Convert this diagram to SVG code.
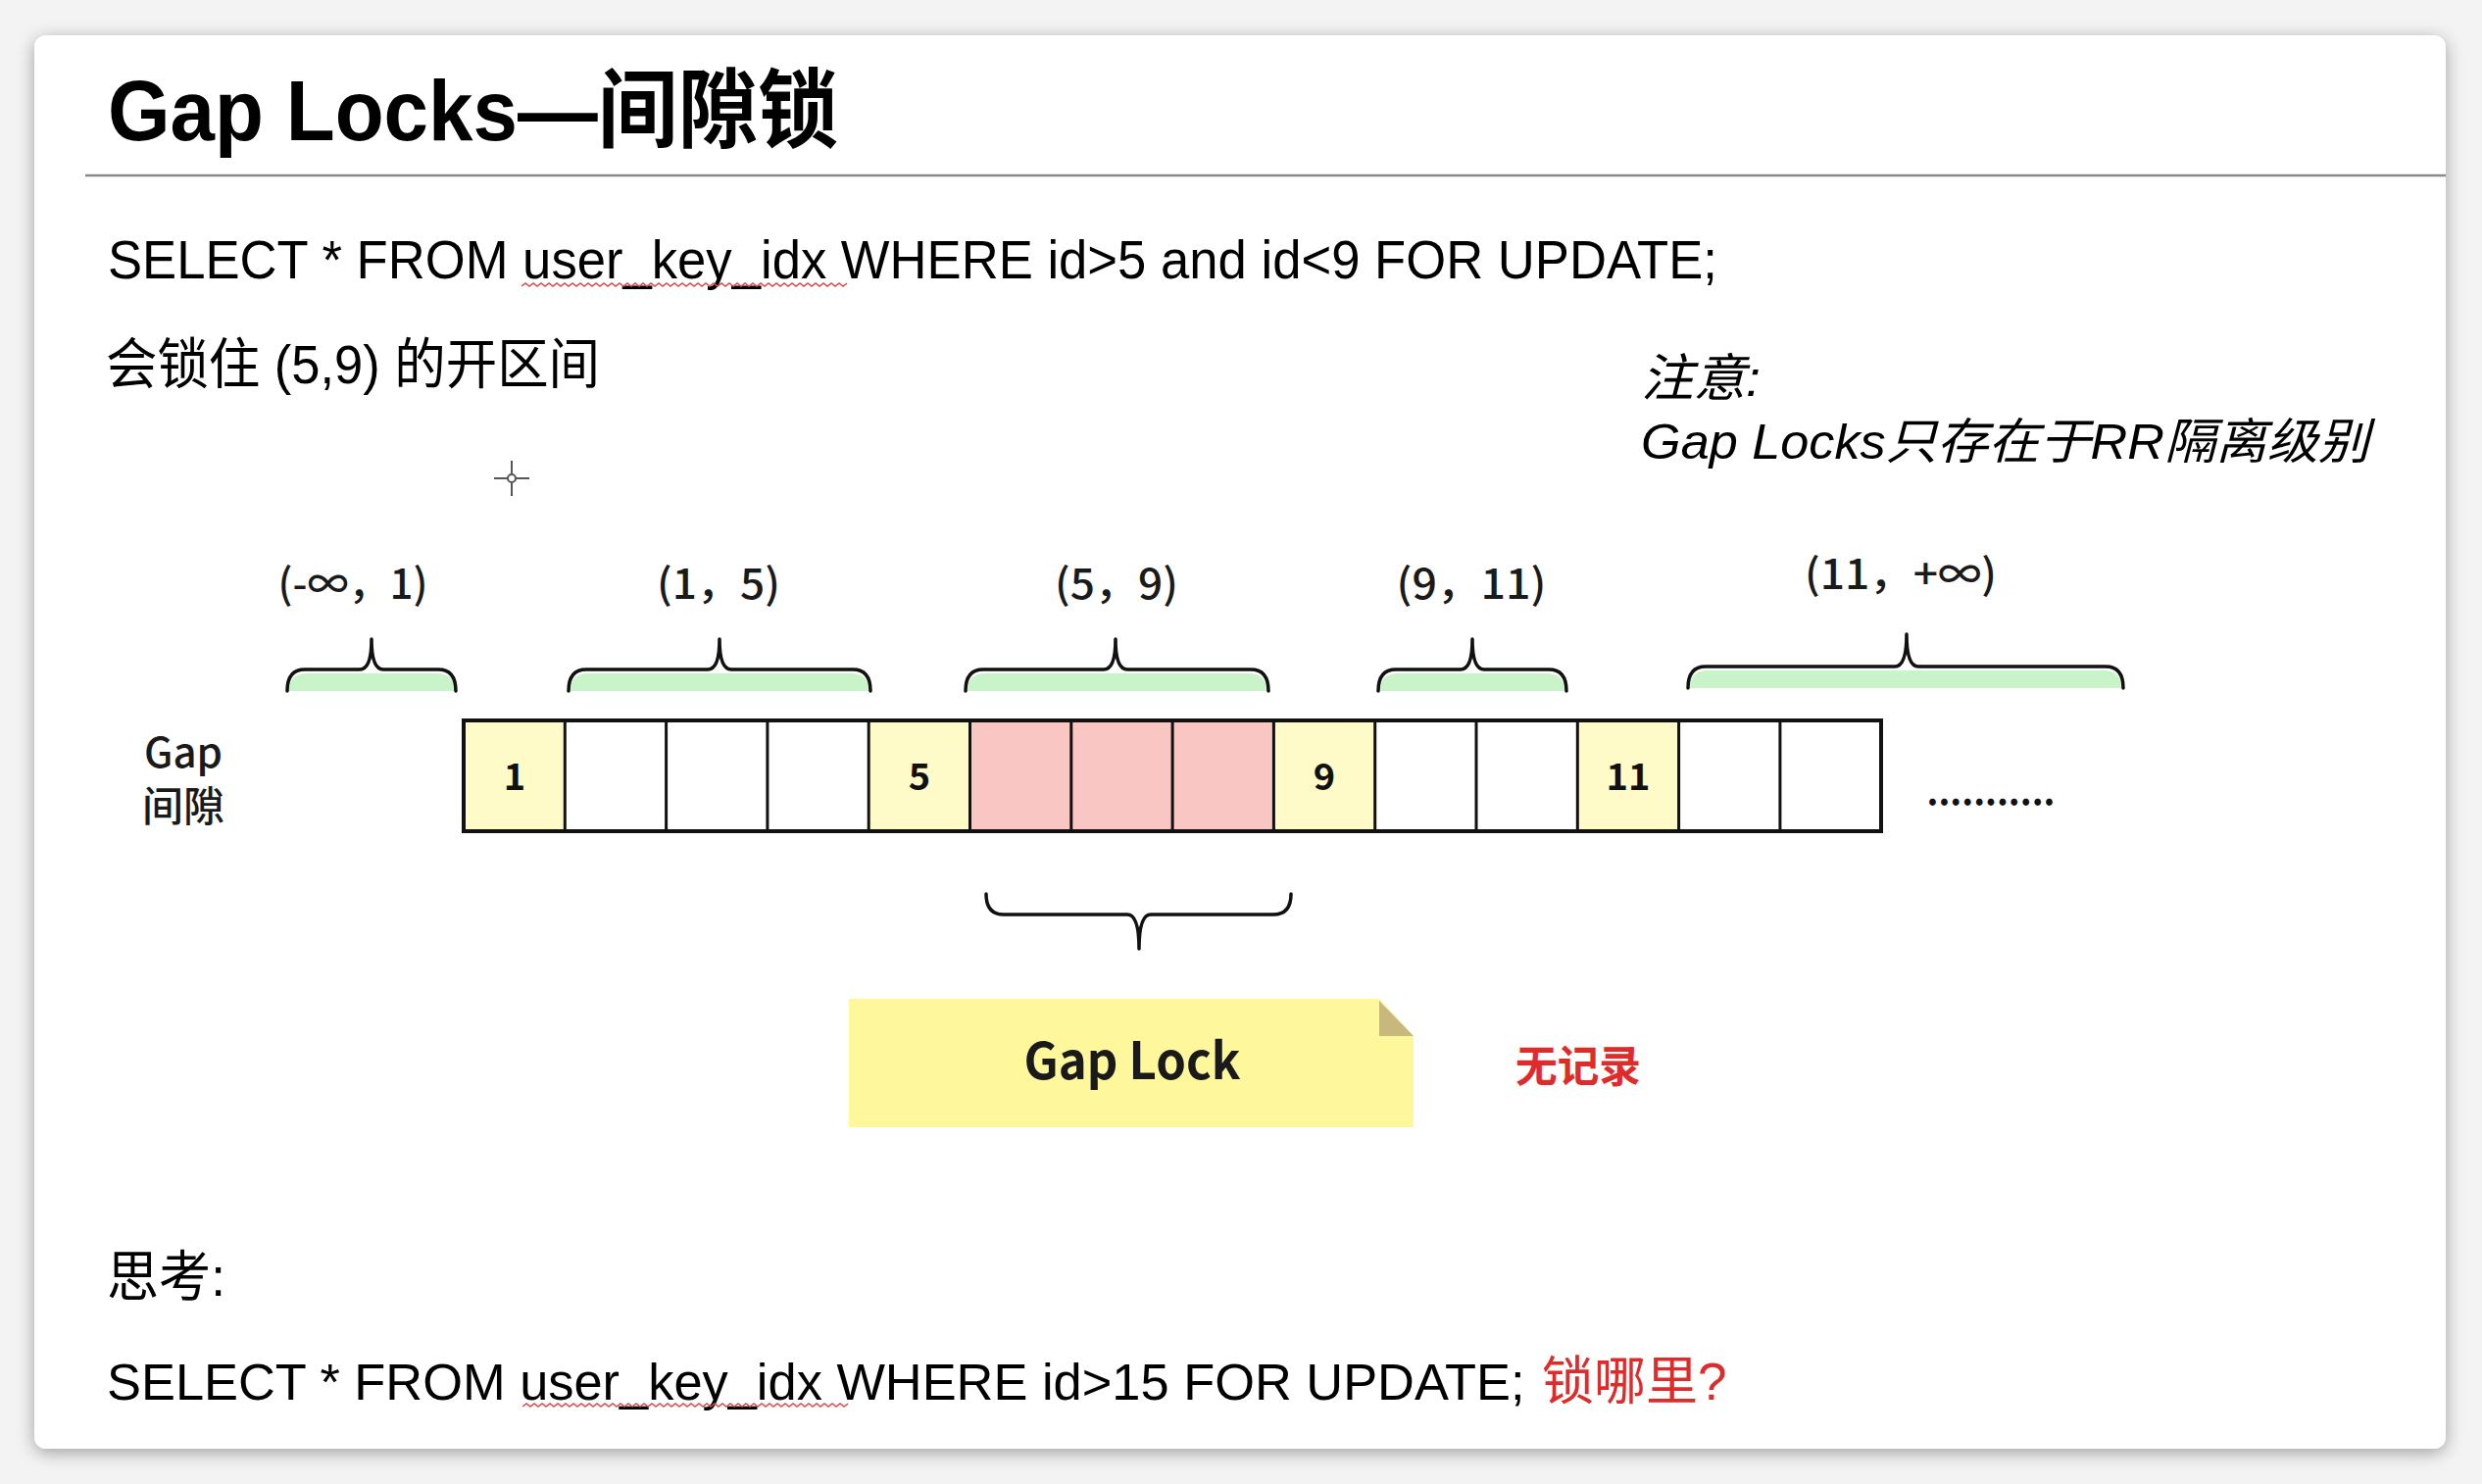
<svg xmlns="http://www.w3.org/2000/svg" width="2532" height="1514" viewBox="0 0 2532 1514">
<defs>
<filter id="shadow" x="-5%" y="-5%" width="110%" height="110%">
<feGaussianBlur in="SourceAlpha" stdDeviation="9"/>
<feOffset dx="0" dy="4"/>
<feComponentTransfer><feFuncA type="linear" slope="0.35"/></feComponentTransfer>
<feMerge><feMergeNode/><feMergeNode in="SourceGraphic"/></feMerge>
</filter>
<style>
.sans{font-family:"Liberation Sans","Noto Sans CJK SC",sans-serif;fill:#000;}
.lbl{font-family:"Noto Sans CJK SC","Noto Sans",sans-serif;fill:#1a1a1a;font-weight:500;}
.num{font-family:"Noto Sans CJK SC","Noto Sans",sans-serif;fill:#111;font-weight:700;font-size:38px;text-anchor:middle;}
.brace{fill:none;stroke:#111;stroke-width:3.5;stroke-linejoin:round;stroke-linecap:round;}
.bfill{fill:#c9f3c9;stroke:none;}
.cell{stroke:#111;stroke-width:3;}
.squig{fill:none;stroke:#e04848;stroke-width:1.5;}
.red{fill:#e02b2b;}
</style>
</defs>
<rect x="0" y="0" width="2532" height="1514" fill="#f3f3f3"/>
<rect id="card" x="35" y="36" width="2460" height="1442" rx="12" fill="#ffffff" filter="url(#shadow)"/>

<g id="title">
<text class="sans" x="110" y="143" font-size="88" font-weight="700" textLength="745" lengthAdjust="spacingAndGlyphs">Gap Locks—间隙锁</text>
<line x1="87" y1="179" x2="2495" y2="179" stroke="#8a8a8a" stroke-width="2.5"/>
</g>

<g id="sql1">
<text class="sans" x="110" y="284" font-size="56" textLength="1642" lengthAdjust="spacingAndGlyphs">SELECT * FROM user_key_idx WHERE id&gt;5 and id&lt;9 FOR UPDATE;</text>
<path class="squig" d="M532 292 l4 -3 l4 3 l4 -3 l4 3 l4 -3 l4 3 l4 -3 l4 3 l4 -3 l4 3 l4 -3 l4 3 l4 -3 l4 3 l4 -3 l4 3 l4 -3 l4 3 l4 -3 l4 3 l4 -3 l4 3 l4 -3 l4 3 l4 -3 l4 3 l4 -3 l4 3 l4 -3 l4 3 l4 -3 l4 3 l4 -3 l4 3 l4 -3 l4 3 l4 -3 l4 3 l4 -3 l4 3 l4 -3 l4 3 l4 -3 l4 3 l4 -3 l4 3 l4 -3 l4 3 l4 -3 l4 3 l4 -3 l4 3 l4 -3 l4 3 l4 -3 l4 3 l4 -3 l4 3 l4 -3 l4 3 l4 -3 l4 3 l4 -3 l4 3 l4 -3 l4 3 l4 -3 l4 3 l4 -3 l4 3 l4 -3 l4 3 l4 -3 l4 3 l4 -3 l4 3 l4 -3 l4 3 l4 -3 l4 3 l4 -3 l4 3 l4 -3"/>
</g>

<g id="desc">
<text class="sans" x="108" y="391" font-size="56" textLength="504" lengthAdjust="spacingAndGlyphs">会锁住 (5,9) 的开区间</text>
</g>

<g id="note-rr">
<text class="sans" x="1674" y="404" font-size="52" font-style="italic" textLength="122" lengthAdjust="spacingAndGlyphs">注意:</text>
<text class="sans" x="1674" y="468" font-size="50" font-style="italic" textLength="743" lengthAdjust="spacingAndGlyphs">Gap Locks只存在于RR隔离级别</text>
</g>

<g id="cursor" stroke="#555" stroke-width="2" fill="none">
<line x1="522" y1="470" x2="522" y2="484"/>
<line x1="522" y1="492" x2="522" y2="506"/>
<line x1="504" y1="488" x2="518" y2="488"/>
<line x1="526" y1="488" x2="540" y2="488"/>
<circle cx="522" cy="488" r="4"/>
</g>

<g id="gap-label">
<text class="lbl" x="187" y="783" font-size="42" font-weight="700" text-anchor="middle">Gap</text>
<text class="lbl" x="187" y="838" font-size="42" font-weight="700" text-anchor="middle">间隙</text>
</g>

<g id="interval-labels">
<text class="lbl" x="360" y="611" font-size="42" text-anchor="middle" textLength="153" lengthAdjust="spacingAndGlyphs">(-∞，1)</text>
<text class="lbl" x="733" y="611" font-size="42" text-anchor="middle" textLength="126" lengthAdjust="spacingAndGlyphs">(1，5)</text>
<text class="lbl" x="1139" y="611" font-size="42" text-anchor="middle" textLength="126" lengthAdjust="spacingAndGlyphs">(5，9)</text>
<text class="lbl" x="1501" y="611" font-size="42" text-anchor="middle" textLength="153" lengthAdjust="spacingAndGlyphs">(9，11)</text>
<text class="lbl" x="1939" y="601" font-size="42" text-anchor="middle" textLength="196" lengthAdjust="spacingAndGlyphs">(11，+∞)</text>
</g>

<g id="connectors">
<g id="brace-1">
<path class="bfill" d="M295 705 Q295 687 313 687 L446 687 Q464 687 464 705 Z"/>
<path class="brace" d="M293 705 Q293 683 311 683 L367 683 Q379 683 379 652 Q379 683 391 683 L447 683 Q465 683 465 705"/>
</g>
<g id="brace-2">
<path class="bfill" d="M582 705 Q582 687 600 687 L868 687 Q886 687 886 705 Z"/>
<path class="brace" d="M580 705 Q580 683 598 683 L722 683 Q734 683 734 652 Q734 683 746 683 L870 683 Q888 683 888 705"/>
</g>
<g id="brace-3">
<path class="bfill" d="M987 705 Q987 687 1005 687 L1274 687 Q1292 687 1292 705 Z"/>
<path class="brace" d="M985 705 Q985 683 1003 683 L1126 683 Q1138 683 1138 652 Q1138 683 1150 683 L1276 683 Q1294 683 1294 705"/>
</g>
<g id="brace-4">
<path class="bfill" d="M1408 705 Q1408 687 1426 687 L1578 687 Q1596 687 1596 705 Z"/>
<path class="brace" d="M1406 705 Q1406 683 1424 683 L1490 683 Q1502 683 1502 652 Q1502 683 1514 683 L1580 683 Q1598 683 1598 705"/>
</g>
<g id="brace-5">
<path class="bfill" d="M1724 702 Q1724 684 1742 684 L2146 684 Q2164 684 2164 702 Z"/>
<path class="brace" d="M1722 702 Q1722 680 1740 680 L1933 680 Q1945 680 1945 647 Q1945 680 1957 680 L2148 680 Q2166 680 2166 702"/>
</g>
<g id="brace-lock">
<path class="brace" d="M1006 912 Q1006 933 1024 933 L1150 933 Q1162 933 1162 968 Q1162 933 1174 933 L1299 933 Q1317 933 1317 912"/>
</g>
</g>

<g id="records">
<rect x="473" y="735" width="103.3" height="113" fill="#fffbc8"/>
<rect x="886.2" y="735" width="103.3" height="113" fill="#fffbc8"/>
<rect x="989.5" y="735" width="309.9" height="113" fill="#f9c6c4"/>
<rect x="1299.4" y="735" width="103.3" height="113" fill="#fffbc8"/>
<rect x="1609.3" y="735" width="103.3" height="113" fill="#fffbc8"/>
<g class="cell">
<line x1="576.3" y1="735" x2="576.3" y2="848"/>
<line x1="679.6" y1="735" x2="679.6" y2="848"/>
<line x1="782.9" y1="735" x2="782.9" y2="848"/>
<line x1="886.2" y1="735" x2="886.2" y2="848"/>
<line x1="989.5" y1="735" x2="989.5" y2="848"/>
<line x1="1092.8" y1="735" x2="1092.8" y2="848"/>
<line x1="1196.1" y1="735" x2="1196.1" y2="848"/>
<line x1="1299.4" y1="735" x2="1299.4" y2="848"/>
<line x1="1402.7" y1="735" x2="1402.7" y2="848"/>
<line x1="1506" y1="735" x2="1506" y2="848"/>
<line x1="1609.3" y1="735" x2="1609.3" y2="848"/>
<line x1="1712.6" y1="735" x2="1712.6" y2="848"/>
<line x1="1815.9" y1="735" x2="1815.9" y2="848"/>
</g>
<rect x="473" y="735" width="1446" height="113" fill="none" stroke="#111" stroke-width="4"/>
<text class="num" x="525" y="806">1</text>
<text class="num" x="938" y="806">5</text>
<text class="num" x="1351" y="806">9</text>
<text class="num" x="1661" y="806">11</text>
<text class="num" x="2031" y="822" font-size="34" textLength="131" lengthAdjust="spacingAndGlyphs">...........</text>
</g>

<g id="gap-lock">
<path d="M866 1019 L1407 1019 L1442 1057 L1442 1150 L866 1150 Z" fill="#fff79c"/>
<path d="M1407 1021 L1407 1057 L1442 1057 Z" fill="#c9b87e"/>
<text x="1155" y="1101" font-family="Noto Sans CJK SC, Open Sans, sans-serif" font-weight="700" font-size="52" fill="#1a1a1a" text-anchor="middle" textLength="221" lengthAdjust="spacingAndGlyphs">Gap Lock</text>
</g>

<g id="no-record">
<text class="red" x="1546" y="1104" font-family="Noto Sans CJK SC, sans-serif" font-weight="700" font-size="44" textLength="128" lengthAdjust="spacingAndGlyphs">无记录</text>
</g>

<g id="think">
<text class="sans" x="109" y="1322" font-size="56" textLength="121" lengthAdjust="spacingAndGlyphs">思考:</text>
</g>

<g id="sql2">
<text class="sans" x="109" y="1428" font-size="52.4">SELECT * FROM user_key_idx WHERE id&gt;15 FOR UPDATE;</text>
<text class="sans red" x="1573" y="1428" font-size="53">锁哪里?</text>
<path class="squig" d="M533 1435 l4 -3 l4 3 l4 -3 l4 3 l4 -3 l4 3 l4 -3 l4 3 l4 -3 l4 3 l4 -3 l4 3 l4 -3 l4 3 l4 -3 l4 3 l4 -3 l4 3 l4 -3 l4 3 l4 -3 l4 3 l4 -3 l4 3 l4 -3 l4 3 l4 -3 l4 3 l4 -3 l4 3 l4 -3 l4 3 l4 -3 l4 3 l4 -3 l4 3 l4 -3 l4 3 l4 -3 l4 3 l4 -3 l4 3 l4 -3 l4 3 l4 -3 l4 3 l4 -3 l4 3 l4 -3 l4 3 l4 -3 l4 3 l4 -3 l4 3 l4 -3 l4 3 l4 -3 l4 3 l4 -3 l4 3 l4 -3 l4 3 l4 -3 l4 3 l4 -3 l4 3 l4 -3 l4 3 l4 -3 l4 3 l4 -3 l4 3 l4 -3 l4 3 l4 -3 l4 3 l4 -3 l4 3 l4 -3 l4 3 l4 -3 l4 3 l4 -3"/>
</g>
</svg>
